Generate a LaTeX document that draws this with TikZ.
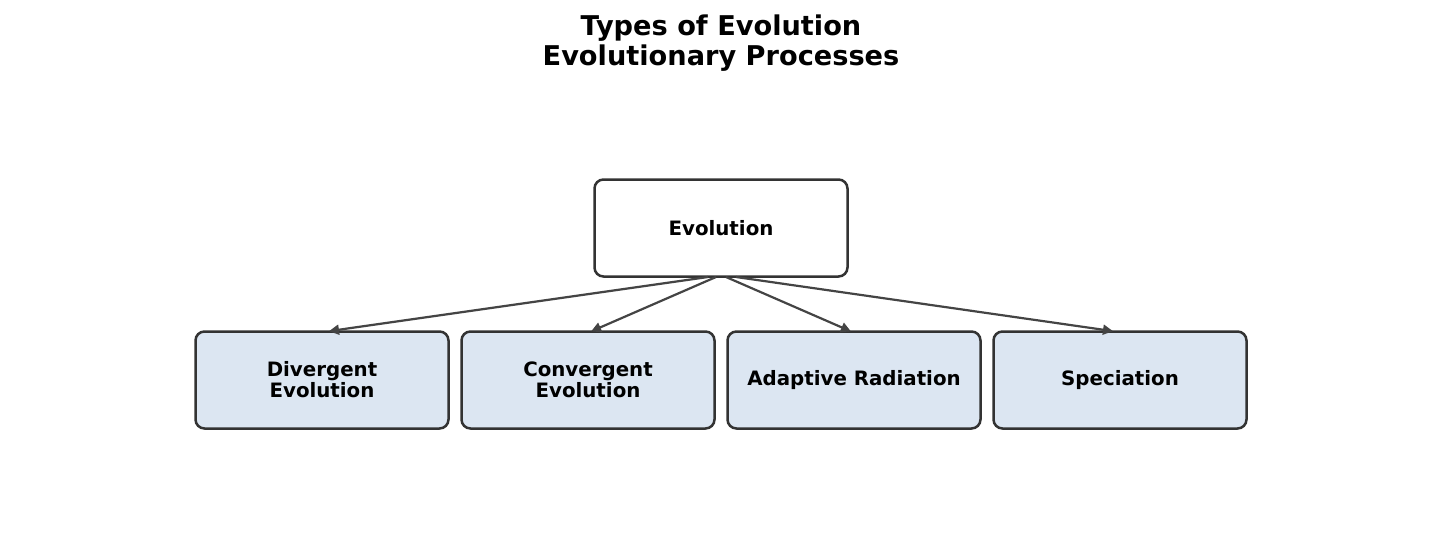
\documentclass[tikz,border=0pt]{standalone}
\usepackage{fontspec}
\setmainfont{DejaVu Sans}
\usetikzlibrary{arrows.meta}
\definecolor{boxfill}{HTML}{DCE6F2}
\definecolor{boxline}{HTML}{333333}
\definecolor{arrowc}{HTML}{444444}
\begin{document}
\begin{tikzpicture}[x=1pt,y=-1pt,
  box/.style={draw=boxline, line width=2.5pt, rounded corners=9pt, minimum width=253pt, minimum height=97pt, align=center, inner sep=0pt, font=\fontsize{19.8}{21}\selectfont\bfseries},
  child/.style={box, fill=boxfill},
  conn/.style={draw=arrowc, line width=2.2pt, -{Triangle[length=10pt,width=10pt]}, shorten >=-1pt}]
\useasboundingbox (0,0) rectangle (1441,546);
\node[font=\fontsize{27.2}{30}\selectfont\bfseries, align=center] (title) at (721,43) {Types of Evolution\\Evolutionary Processes};
\node[box, fill=white] (evo) at (721,228) {Evolution};
\node[child] (c1) at (322,380) {Divergent\\Evolution};
\node[child] (c2) at (588,380) {Convergent\\Evolution};
\node[child] (c3) at (854,380) {Adaptive Radiation};
\node[child] (c4) at (1120,380) {Speciation};
\coordinate (s1) at (708,277);
\coordinate (s2) at (716,277);
\coordinate (s3) at (726,277);
\coordinate (s4) at (736,277);
\coordinate (e1) at (330,331);
\coordinate (e2) at (592,331);
\coordinate (e3) at (850,331);
\coordinate (e4) at (1112,331);
\draw[conn] (s1) -- (e1);
\draw[conn] (s2) -- (e2);
\draw[conn] (s3) -- (e3);
\draw[conn] (s4) -- (e4);
\end{tikzpicture}
\end{document}
